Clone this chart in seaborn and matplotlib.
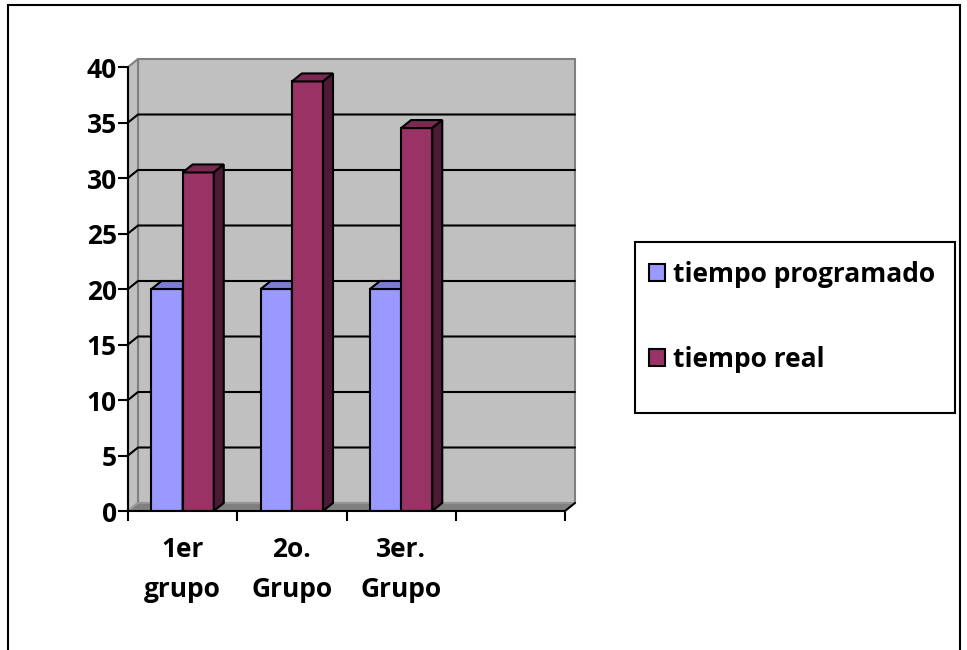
import pandas as pd
import matplotlib
matplotlib.use("Agg")
import matplotlib.pyplot as plt
from matplotlib.patches import Polygon, Rectangle, Patch
import seaborn as sns

# data
grupos = ["1er\ngrupo", "2o.\nGrupo", "3er.\nGrupo"]
tiempo_programado = [20, 20, 20]
tiempo_real = [30.5, 38.7, 34.5]
series = ["tiempo programado", "tiempo real"]
y_ticks = [0, 5, 10, 15, 20, 25, 30, 35, 40]

colores = ["#9999FF", "#993366"]
colores_top = ["#7C7CD6", "#7A2952"]
colores_lado = ["#5C5C99", "#4D1A36"]

df = pd.DataFrame({
    "grupo": grupos * 2,
    "minutos": tiempo_programado + tiempo_real,
    "serie": [series[0]] * 3 + [series[1]] * 3,
})

sns.set_style("white")
plt.rcParams["font.family"] = ["Open Sans", "DejaVu Sans"]
plt.rcParams["text.color"] = "black"
plt.rcParams["xtick.labelcolor"] = "black"
plt.rcParams["ytick.labelcolor"] = "black"
peso = "bold"
fs = 19

fig = plt.figure(figsize=(9.67, 6.5), dpi=100)
ax = fig.add_axes([128 / 967, 1 - 511 / 650, 437 / 967, 444 / 650])

sns.barplot(data=df, x="grupo", y="minutos", hue="serie", palette=colores,
            width=0.57, saturation=1, edgecolor="black", linewidth=1.5,
            ax=ax, legend=False, zorder=5)
bar_patches = list(ax.patches)  # first 3 = programado, next 3 = real

n_slots = len(grupos) + 1
x0, x1 = -0.5, n_slots - 0.5
ymax = y_ticks[-1]
ax.set_xlim(x0, x1)
ax.set_ylim(0, ymax)
ax.set_facecolor("none")
for s in ax.spines.values():
    s.set_visible(False)

# depth of the fake 3d
dx = 10 / (437 / n_slots)
dy = 8 / (444 / ymax)

# walls and floor
ax.add_patch(Polygon([(x0 + dx, dy), (x1 + dx, dy), (x1 + dx, ymax + dy), (x0 + dx, ymax + dy)],
                     closed=True, facecolor="#C0C0C0", edgecolor="#808080", lw=1.5,
                     clip_on=False, zorder=0))
ax.add_patch(Polygon([(x0, 0), (x0 + dx, dy), (x0 + dx, ymax + dy), (x0, ymax)],
                     closed=True, facecolor="#C0C0C0", edgecolor="#808080", lw=1.5,
                     clip_on=False, zorder=0))
ax.add_patch(Polygon([(x0, 0), (x1, 0), (x1 + dx, dy), (x0 + dx, dy)],
                     closed=True, facecolor="#808080", edgecolor="#A0A0A0", lw=1,
                     clip_on=False, zorder=1))
for v in y_ticks[1:-1]:
    ax.plot([x0, x0 + dx, x1 + dx], [v, v + dy, v + dy], color="black", lw=1.5,
            clip_on=False, zorder=2)

# axis lines
ax.plot([x0, x0], [0, ymax], color="black", lw=1.5, clip_on=False, zorder=3)
ax.plot([x0, x1, x1 + dx], [0, 0, dy], color="black", lw=1.5, clip_on=False, zorder=8)

# 3d faces of the columns, left to right so later bars cover earlier sides
orden = sorted(range(len(bar_patches)), key=lambda i: bar_patches[i].get_x())
for rank, i in enumerate(orden):
    p = bar_patches[i]
    x, w, h = p.get_x(), p.get_width(), p.get_height()
    k = 0 if i < len(grupos) else 1
    z = 5 + rank * 0.1
    p.set_zorder(z)
    ax.add_patch(Polygon([(x, h), (x + w, h), (x + w + dx, h + dy), (x + dx, h + dy)],
                         closed=True, facecolor=colores_top[k], edgecolor="black",
                         lw=1.5, clip_on=False, zorder=z))
    ax.add_patch(Polygon([(x + w, 0), (x + w + dx, dy), (x + w + dx, h + dy), (x + w, h)],
                         closed=True, facecolor=colores_lado[k], edgecolor="black",
                         lw=1.5, clip_on=False, zorder=z))

ax.set_xlabel("")
ax.set_ylabel("")
ax.set_yticks(y_ticks)
ax.set_yticklabels([str(v) for v in y_ticks], fontsize=fs, fontweight=peso)
ax.tick_params(axis="y", direction="out", length=7, width=1.5, color="black", pad=1, left=True)
ax.set_xticks(range(len(grupos)))
ax.set_xticklabels(grupos, fontsize=fs, fontweight=peso, linespacing=1.63)
ax.set_xticks([x0 + i for i in range(n_slots + 1)], minor=True)
ax.tick_params(axis="x", which="major", length=0, pad=18)
ax.tick_params(axis="x", which="minor", direction="out", length=7, width=1.5,
               color="black", bottom=True)

# legend
handles = [Patch(facecolor=c, edgecolor="black", lw=1.5) for c in colores]
fig.legend(handles, series, loc="upper left", bbox_to_anchor=(638 / 967, 1 - 250 / 650),
           frameon=False, prop={"size": fs, "weight": peso}, handlelength=0.64,
           handleheight=0.64, handletextpad=0.3, labelspacing=2.2, borderaxespad=0)
fig.patches.append(Rectangle((635 / 967, 1 - 413 / 650), 320 / 967, 171 / 650,
                             transform=fig.transFigure, fill=False, edgecolor="black", lw=1.5))
# outer frame
fig.patches.append(Rectangle((8 / 967, -0.05), 952 / 967, 1.05 - 5 / 650,
                             transform=fig.transFigure, fill=False, edgecolor="black", lw=1.5))

fig.savefig("out.png", dpi=100)
